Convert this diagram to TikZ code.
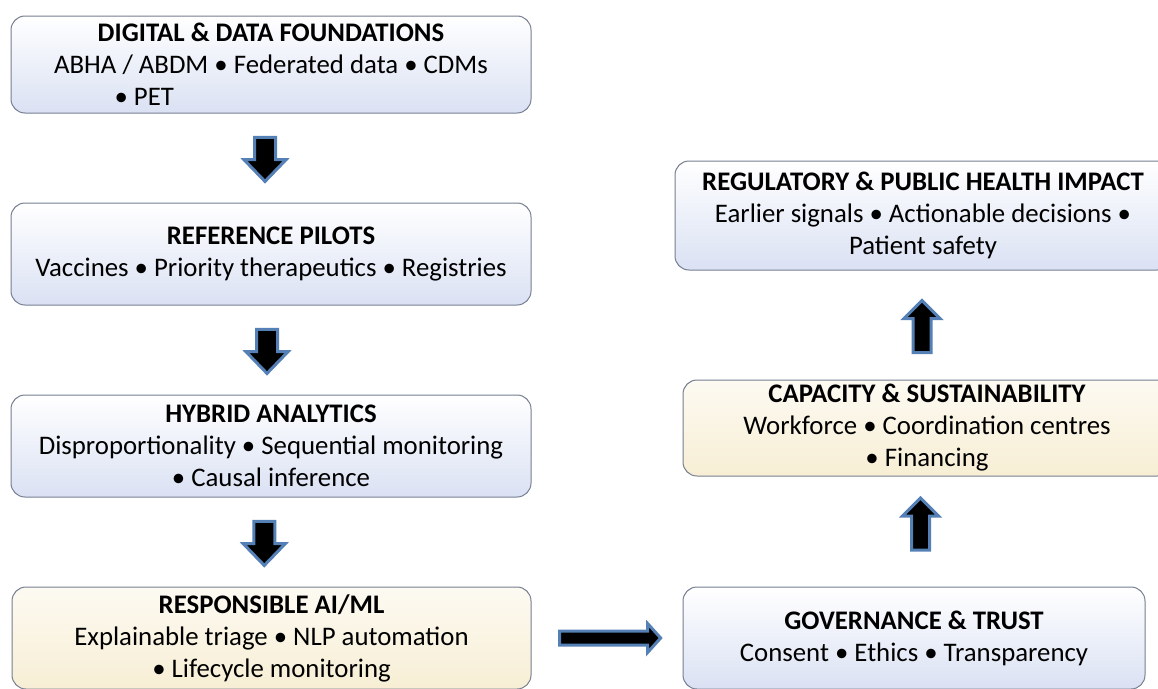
\documentclass[tikz,border=0pt]{standalone}
\usepackage{fontspec}
\setmainfont{Carlito}
\usetikzlibrary{positioning, shapes.arrows, calc}

\definecolor{boxline}{RGB}{118,126,144}
\definecolor{boxblue}{RGB}{218,225,243}
\definecolor{cream}{RGB}{247,238,212}
\definecolor{arrowblue}{RGB}{84,128,182}

\begin{document}
\begin{tikzpicture}[x=1pt, y=-1pt,
        stage/.style={draw=boxline, line width=1pt, rounded corners=14pt,
            align=center, inner sep=0pt, font=\fontsize{26.8}{32}\selectfont,
            top color=white, bottom color=boxblue},
        warm/.style={stage, top color=white!70!cream, bottom color=cream},
        blockarrow/.style={single arrow, draw=arrowblue, fill=black,
            line width=3pt, inner sep=0pt},
        down/.style={blockarrow, rotate=-90, inner ysep=9pt, minimum height=44pt,
            single arrow head extend=10.5pt, single arrow tip angle=88},
        up/.style={blockarrow, rotate=90, inner ysep=7.5pt, minimum height=52pt,
            single arrow head extend=9pt, single arrow tip angle=90},
    ]
    \useasboundingbox (0,0) rectangle (1158,688);

    % left column
    \node[stage, minimum width=520pt, minimum height=97pt] (dig) at (271,64.5)
        {\textbf{DIGITAL \& DATA FOUNDATIONS}\\
         ABHA / ABDM • Federated data • CDMs\\
         \makebox[433pt][l]{\hspace*{60pt}• PET}};
    \node[stage, minimum width=520pt, minimum height=102pt] (ref) at (271,254)
        {\textbf{REFERENCE PILOTS}\\
         Vaccines • Priority therapeutics • Registries};
    \node[stage, minimum width=520pt, minimum height=102pt] (hyb) at (271,446)
        {\textbf{HYBRID ANALYTICS}\\
         Disproportionality • Sequential monitoring\\
         • Causal inference};
    \node[warm, minimum width=519pt, minimum height=102pt] (resp) at (271.5,638)
        {\textbf{RESPONSIBLE AI/ML}\\
         Explainable triage • NLP automation\\
         • Lifecycle monitoring};

    % right column
    \node[stage, minimum width=462pt, minimum height=102pt] (gov) at (914,638)
        {\textbf{GOVERNANCE \& TRUST}\\
         Consent • Ethics • Transparency};
    \node[warm, minimum width=488pt, minimum height=96pt] (cap) at (927,428)
        {\textbf{CAPACITY \& SUSTAINABILITY}\\
         Workforce • Coordination centres\\
         • Financing};
    \node[stage, minimum width=496pt, minimum height=109pt] (reg) at (923,215.5)
        {\textbf{REGULATORY \& PUBLIC HEALTH IMPACT}\\
         Earlier signals • Actionable decisions •\\
         Patient safety};

    % block arrows between stages
    \node[down, xshift=-4pt, yshift=-6pt] (a1) at ($(dig.south)!.5!(ref.north)$) {};
    \node[down, xshift=-4pt, yshift=-4pt] (a2) at ($(ref.south)!.5!(hyb.north)$) {};
    \node[down, xshift=-4pt, yshift=-7pt] (a3) at ($(hyb.south)!.5!(resp.north)$) {};
    \node[blockarrow, inner ysep=5.5pt, minimum height=101pt,
        single arrow head extend=7.5pt, single arrow tip angle=96]
        (a4) at ($(resp.east)!.5!(gov.west)$) {};
    \node[up, xshift=3pt] (a5) at ($(gov.north)!.5!(cap.south)$) {};
    \node[up, xshift=-6pt, yshift=3pt] (a6) at ($(cap.north)!.5!(reg.south)$) {};
\end{tikzpicture}
\end{document}
